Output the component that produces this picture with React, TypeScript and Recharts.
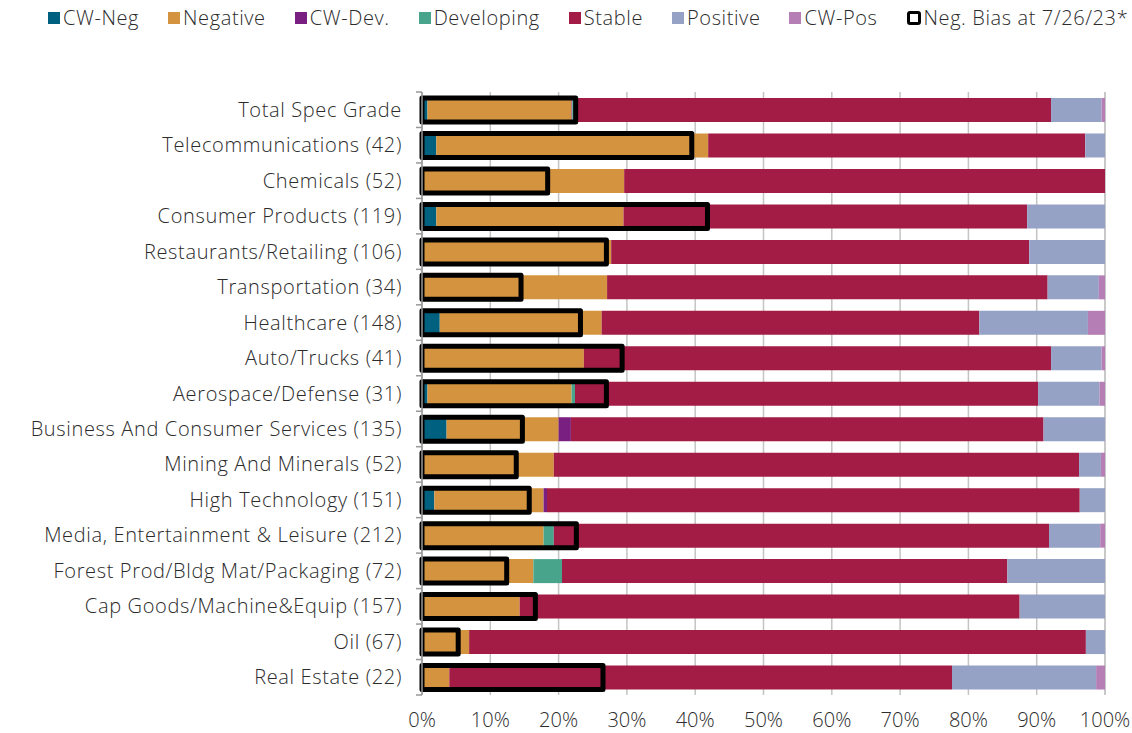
import React from 'react';
import { BarChart, Bar, XAxis, YAxis, CartesianGrid } from 'recharts';

const categories = [
  'Total Spec Grade',
  'Telecommunications (42)',
  'Chemicals (52)',
  'Consumer Products (119)',
  'Restaurants/Retailing (106)',
  'Transportation (34)',
  'Healthcare (148)',
  'Auto/Trucks (41)',
  'Aerospace/Defense (31)',
  'Business And Consumer Services (135)',
  'Mining And Minerals (52)',
  'High Technology (151)',
  'Media, Entertainment & Leisure (212)',
  'Forest Prod/Bldg Mat/Packaging (72)',
  'Cap Goods/Machine&Equip (157)',
  'Oil (67)',
  'Real Estate (22)',
];

const cwNeg = [0.8, 2.1, 0, 2.1, 0, 0, 2.6, 0.3, 0.8, 3.6, 0.3, 1.8, 0, 0, 0, 0, 0];
const negative = [21.1, 39.8, 29.6, 27.4, 27.7, 27.1, 23.7, 23.4, 21.1, 16.4, 19.0, 16.0, 17.8, 16.3, 14.3, 6.9, 4.0];
const cwDev = [0.1, 0, 0, 0, 0, 0, 0, 0, 0, 1.8, 0, 0.5, 0, 0, 0, 0, 0];
const developing = [0.3, 0, 0, 0, 0, 0, 0, 0, 0.5, 0, 0, 0, 1.5, 4.2, 0, 0, 0];
const stable = [69.8, 55.2, 70.4, 59.1, 61.2, 64.5, 55.3, 68.4, 67.8, 69.2, 76.9, 78.0, 72.5, 65.2, 73.2, 90.3, 73.6];
const positive = [7.4, 2.9, 0, 11.4, 11.1, 7.5, 15.9, 7.4, 9.0, 9.0, 3.2, 3.7, 7.5, 14.3, 12.5, 2.8, 21.1];
const cwPos = [0.5, 0, 0, 0, 0, 0.9, 2.5, 0.5, 0.8, 0, 0.6, 0, 0.7, 0, 0, 0, 1.3];
// negative bias at 7/26/23, drawn as outline boxes
const negBias = [22.5, 39.5, 18.4, 41.8, 27.0, 14.5, 23.2, 29.3, 27.0, 14.7, 13.8, 15.7, 22.6, 12.4, 16.6, 5.3, 26.5];

const xTicks = [0, 10, 20, 30, 40, 50, 60, 70, 80, 90, 100];

const series = [
  { key: 'cwNeg', name: 'CW-Neg', color: '#00607f', values: cwNeg },
  { key: 'negative', name: 'Negative', color: '#d4943f', values: negative },
  { key: 'cwDev', name: 'CW-Dev.', color: '#7a1f82', values: cwDev },
  { key: 'developing', name: 'Developing', color: '#48a58c', values: developing },
  { key: 'stable', name: 'Stable', color: '#a21c45', values: stable },
  { key: 'positive', name: 'Positive', color: '#95a2c5', values: positive },
  { key: 'cwPos', name: 'CW-Pos', color: '#b57fb6', values: cwPos },
];

const data = categories.map((name, i) => {
  const row: any = { name, bias: negBias[i] };
  series.forEach((s) => {
    row[s.key] = s.values[i];
  });
  return row;
});

const FONT = '"Open Sans", sans-serif';
const TEXT_COLOR = '#2b2b2b';

const CategoryTick = (props: any) => {
  const { x, y, payload, index, visibleTicksCount } = props;
  const half = payload.offset || 0;
  const isLast = index === visibleTicksCount - 1;
  return (
    <g>
      <line x1={x - 6} x2={x} y1={y - half} y2={y - half} stroke="#999" strokeWidth={1.5} />
      {isLast && <line x1={x - 6} x2={x} y1={y + half} y2={y + half} stroke="#999" strokeWidth={1.5} />}
      <text
        x={x - 20}
        y={y}
        dy="0.35em"
        textAnchor="end"
        fill={TEXT_COLOR}
        fontSize={20}
        fontWeight={300}
        letterSpacing={0.65}
        fontFamily={FONT}
      >
        {payload.value}
      </text>
    </g>
  );
};

const ChartLegend = () => (
  <div
    style={{
      position: 'absolute',
      left: 48,
      top: 4,
      display: 'flex',
      alignItems: 'center',
      gap: 29,
      fontFamily: FONT,
      fontSize: 20,
      fontWeight: 300,
      letterSpacing: 0.6,
      color: TEXT_COLOR,
      whiteSpace: 'nowrap',
    }}
  >
    {series.map((s) => (
      <div key={s.key} style={{ display: 'flex', alignItems: 'center' }}>
        <span style={{ width: 12, height: 12, background: s.color, marginRight: 3, display: 'inline-block' }} />
        <span>{s.name}</span>
      </div>
    ))}
    <div style={{ display: 'flex', alignItems: 'center' }}>
      <span
        style={{
          width: 8,
          height: 8,
          border: '3px solid #000',
          borderRadius: 3,
          marginRight: 3,
          display: 'inline-block',
        }}
      />
      <span>Neg. Bias at 7/26/23*</span>
    </div>
  </div>
);

export default function App() {
  return (
    <div style={{ position: 'absolute', left: 0, top: 0, width: 1132, height: 733, background: '#fff' }}>
      <ChartLegend />
      <BarChart
        width={1132}
        height={733}
        data={data}
        layout="vertical"
        margin={{ top: 92, right: 27, left: 0, bottom: 8 }}
      >
        <CartesianGrid horizontal={false} vertical stroke="#c4c4c4" strokeWidth={1.5} />
        <XAxis
          type="number"
          domain={[0, 100]}
          ticks={xTicks}
          tickFormatter={(v: number) => `${v}%`}
          axisLine={false}
          tickLine={false}
          tickSize={0}
          tickMargin={18}
          height={30}
          interval={0}
          tick={{ fill: TEXT_COLOR, fontSize: 20, fontWeight: 300, fontFamily: FONT }}
        />
        <YAxis
          type="category"
          dataKey="name"
          width={422}
          interval={0}
          tickLine={false}
          tickSize={0}
          tickMargin={0}
          axisLine={{ stroke: '#999', strokeWidth: 1.5 }}
          tick={<CategoryTick />}
        />
        <YAxis yAxisId="bias" type="category" dataKey="name" hide />
        {series.map((s) => (
          <Bar
            key={s.key}
            dataKey={s.key}
            name={s.name}
            stackId="a"
            fill={s.color}
            barSize={24}
            isAnimationActive={false}
          />
        ))}
        <Bar
          dataKey="bias"
          name="Neg. Bias at 7/26/23*"
          yAxisId="bias"
          fill="none"
          stroke="#000"
          strokeWidth={5}
          strokeLinejoin="round"
          barSize={24}
          isAnimationActive={false}
        />
      </BarChart>
    </div>
  );
}
